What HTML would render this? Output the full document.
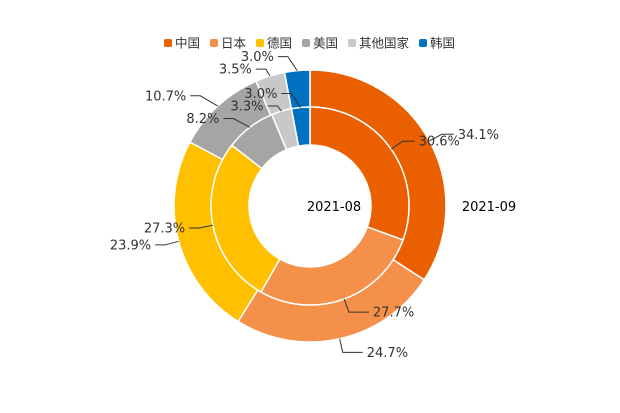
<!DOCTYPE html>
<html><head><meta charset="utf-8"><style>
body{margin:0;background:#fff;}
svg{display:block;font-family:"DejaVu Sans","Liberation Sans","Noto Sans CJK SC",sans-serif;}
</style></head><body>
<svg id="chart" width="620" height="413">
<g id="legend"></g>
<g id="rings"></g>
<g id="labels"></g>
<text x="334" y="211" text-anchor="middle" font-size="13" fill="#000">2021-08</text>
<text x="489" y="211" text-anchor="middle" font-size="13" fill="#000">2021-09</text>
</svg>
<script>
const categories=["中国","日本","德国","美国","其他国家","韩国"];
const colors=["#ea5f00","#f4904a","#ffc000","#a5a5a5","#c8c8c8","#0070c0"];
const values0821=[30.6,27.7,27.3,8.2,3.3,3.0];
const values0921=[34.1,24.7,23.9,10.7,3.5,3.0];
const labels0821=["30.6%","27.7%","27.3%","8.2%","3.3%","3.0%"];
const labels0921=["34.1%","24.7%","23.9%","10.7%","3.5%","3.0%"];
const NS="http://www.w3.org/2000/svg";
const cx=310,cy=206;
function mk(tag,attrs,parent){const e=document.createElementNS(NS,tag);for(const k in attrs)e.setAttribute(k,attrs[k]);parent.appendChild(e);return e;}
function pt(r,a){return [cx+r*Math.sin(a),cy-r*Math.cos(a)];}
const lg=document.getElementById('legend');
let lx=164;
categories.forEach((c,i)=>{
  const g=mk('g',{},lg);
  
  
  mk('rect',{x:lx,y:39,width:8,height:8,rx:2,fill:colors[i]},g);
  const t=mk('text',{x:lx+11,y:47.5,'font-size':12.5,fill:'#333','font-family':'"Noto Sans CJK SC",sans-serif'},g);t.textContent=c;
  lx+=11+12.5*c.length+10;
});
const rings=document.getElementById('rings'),labs=document.getElementById('labels');
function drawRing(vals,labels,r0,r1,name){
  const sum=vals.reduce((a,b)=>a+b,0);let acc=0;const lbl=[];
  vals.forEach((v,i)=>{
    const a0=acc/sum*2*Math.PI;acc+=v;const a1=acc/sum*2*Math.PI;
    const large=(a1-a0)>Math.PI?1:0;
    const p0=pt(r1,a0),p1=pt(r1,a1),q1=pt(r0,a1),q0=pt(r0,a0);
    const d=`M${p0}A${r1},${r1} 0 ${large} 1 ${p1}L${q1}A${r0},${r0} 0 ${large} 0 ${q0}Z`;
    const p=mk('path',{d:d,fill:colors[i],stroke:'#fff','stroke-width':1.5},rings);
    
    
    const am=(a0+a1)/2;const s=pt(r1,am),e=pt(r1+14,am);
    lbl.push({i,s,ex:e[0],ey:e[1],right:Math.sin(am)>=0,text:labels[i]});
  });
  [true,false].forEach(side=>{
    const L=lbl.filter(l=>l.right===side).sort((a,b)=>a.ey-b.ey);
    for(let k=1;k<L.length;k++){if(L[k].ey<L[k-1].ey+12.5)L[k].ey=L[k-1].ey+12.5;}
  });
  lbl.forEach(l=>{
    if(!l.right&&l.ey<l.s[1]-8){l.ex-=8;}
    const len=l.right?(l.ey>206?20:12):10;
    const hx=l.right?l.ex+len:l.ex-len;
    const pl=mk('polyline',{points:`${l.s} ${l.ex},${l.ey} ${hx},${l.ey}`,fill:'none',stroke:'#333','stroke-width':1},labs);
    
    
    const t=mk('text',{x:l.right?hx+4:hx-4,y:l.ey+4.5,'font-size':13,fill:'#333','text-anchor':l.right?'start':'end'},labs);
    t.textContent=l.text;
    
    
  });
}
drawRing(values0921,labels0921,99,136,'outer-2021-09');
drawRing(values0821,labels0821,61,99,'inner-2021-08');
</script>
</body></html>
